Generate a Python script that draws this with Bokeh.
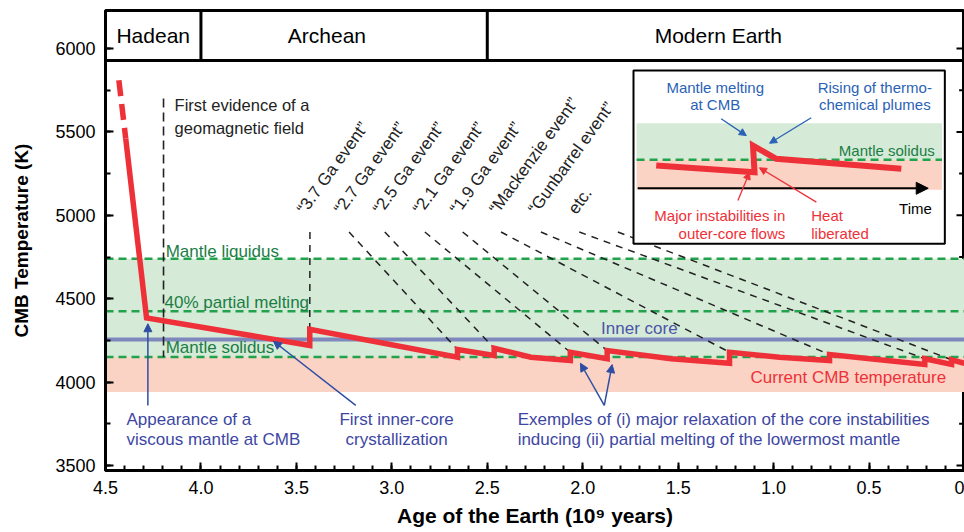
from bokeh.plotting import figure
from bokeh.models import (Range1d, SingleIntervalTicker, Arrow,
                          NormalHead, NumeralTickFormatter)
from bokeh.core.properties import value
from bokeh.embed import file_html
from bokeh.resources import INLINE

FONT = "Liberation Sans"

# ---------------- data ----------------
eon_names = ["Hadean", "Archean", "Modern Earth"]
eon_start = [4.5, 4.0, 2.5]
eon_end = [4.0, 2.5, 0.0]
eon_label_age = [4.25, 3.34, 1.29]
header_bottom_T = 5928

# CMB temperature history (age in Ga, T in K)
early_age = [4.430, 4.394]
early_T = [5810, 5460]
cmb_age = [4.394, 4.285, 3.43, 3.43, 2.656, 2.656, 2.464, 2.464, 2.271, 2.065, 2.065,
           1.872, 1.872, 1.537, 1.231, 1.231, 0.969, 0.707, 0.707, 0.208, 0.208,
           0.068, 0.068, 0.0]
cmb_T = [5460, 4385, 4220, 4317, 4149, 4195, 4159, 4203, 4149, 4129, 4179,
         4140, 4189, 4140, 4113, 4179, 4149, 4129, 4165, 4106, 4140,
         4106, 4134, 4113]

# reference temperature levels (K)
T_liquidus = 4740
T_partial40 = 4425
T_inner_core = 4255
T_solidus = 4150
T_current_low = 3940

# right-hand tick marks (K)
right_major_ticks = [3500, 4000, 4500, 5000, 5500, 6000]
right_minor_ticks = [3750, 4250, 4750, 5250, 5750]

# geomagnetic field evidence
geomag_age = 4.196
geomag_T = [5700, 4150]

# events
event_labels = ["\u201c3.7 Ga event\u201d", "\u201c2.7 Ga event\u201d", "\u201c2.5 Ga event\u201d",
                "\u201c2.1 Ga event\u201d", "\u201c1.9 Ga event\u201d", "\u201cMackenzie event\u201d",
                "\u201cGunbarrel event\u201d", "etc."]
event_label_age = [3.477, 3.283, 3.079, 2.869, 2.675, 2.470, 2.266, 2.056]
event_label_T = 5020
event_line_start_age = [3.429, 3.224, 3.037, 2.827, 2.629, 2.428, 2.219, 2.018, 1.816]
event_line_start_T = 4900
event_jump_age = [3.43, 2.656, 2.464, 2.065, 1.872, 1.231, 0.707, 0.208, 0.068]
event_jump_T = [4317, 4195, 4203, 4179, 4189, 4179, 4165, 4140, 4134]

# inset schematic (drawn in main-plot units)
inset_box = dict(left=1.734, right=0.103, top=5868, bottom=4829)
inset_band_x = [1.718, 0.118]
inset_green_T = [5333, 5552]
inset_pink_T = [5153, 5333]
inset_curve_age = [1.615, 1.100, 1.108, 0.986, 0.331]
inset_curve_T = [5299, 5258, 5418, 5339, 5279]
inset_time_axis_age = [1.712, 0.190]
inset_time_axis_T = 5162

# ---------------- colours ----------------
RED = "#ee3138"
GREEN_BAND = "#d5ead7"
PINK_BAND = "#fbd3c5"
GREEN_LINE = "#22a24c"
GREEN_TEXT = "#1b7d45"
BLUE_TEXT = "#3d47a3"
BLUE2 = "#2a62b5"
INNER = "#7e88bd"

p = figure(width=964, height=532, x_range=Range1d(4.5, 0), y_range=Range1d(3470, 6228),
           output_backend="svg", toolbar_location=None,
           min_border_left=105, min_border_right=0, min_border_top=10, min_border_bottom=62)
p.xgrid.grid_line_color = None
p.ygrid.grid_line_color = None
p.outline_line_color = "black"
p.outline_line_width = 3
p.background_fill_color = "white"
p.border_fill_color = "white"

# axes
p.xaxis.ticker = SingleIntervalTicker(interval=0.5, num_minor_ticks=5)
p.xaxis.formatter = NumeralTickFormatter(format="0.0")
p.xaxis.major_label_overrides = {0: "0"}
p.yaxis.ticker = SingleIntervalTicker(interval=500, num_minor_ticks=2)
for ax in (p.xaxis[0], p.yaxis[0]):
    ax.axis_line_width = 3
    ax.major_tick_in = 8
    ax.major_tick_out = 0
    ax.minor_tick_in = 5
    ax.minor_tick_out = 0
    ax.major_tick_line_width = 2
    ax.minor_tick_line_width = 2
    ax.major_label_text_font = FONT
    ax.major_label_text_font_size = "18px"
    ax.major_label_text_color = "black"
    ax.axis_label_text_font = FONT
    ax.axis_label_text_font_style = "bold"
    ax.axis_label_text_color = "black"
p.xaxis.axis_label = "Age of the Earth (10\u2079 years)"
p.xaxis.axis_label_text_font_size = "21px"
p.xaxis.major_label_standoff = 10
p.xaxis.axis_label_standoff = 7
p.yaxis.axis_label = "CMB Temperature (K)"
p.yaxis.axis_label_text_font_size = "19px"
p.yaxis.major_label_standoff = 10
p.yaxis.axis_label_standoff = 20

# right-side inward ticks
p.segment(x0=[0.0] * len(right_major_ticks), x1=[0.042] * len(right_major_ticks),
          y0=right_major_ticks, y1=right_major_ticks, line_color="black", line_width=2)
p.segment(x0=[0.0] * len(right_minor_ticks), x1=[0.028] * len(right_minor_ticks),
          y0=right_minor_ticks, y1=right_minor_ticks, line_color="black", line_width=2)

# bands
p.quad(left=[4.5], right=[0.0], bottom=[T_current_low], top=[T_solidus],
       fill_color=PINK_BAND, line_color=None)
p.quad(left=[4.5], right=[0.0], bottom=[T_solidus], top=[T_liquidus],
       fill_color=GREEN_BAND, line_color=None)

# green dashed reference lines
for lvl in (T_liquidus, T_partial40, T_solidus):
    p.segment(x0=[4.5], x1=[0.0], y0=[lvl], y1=[lvl], line_color=GREEN_LINE,
              line_width=2.5, line_dash="8 5")
# inner core line
p.segment(x0=[4.5], x1=[0.0], y0=[T_inner_core], y1=[T_inner_core],
          line_color=INNER, line_width=4)

# header
p.segment(x0=[4.5], x1=[0.0], y0=[header_bottom_T], y1=[header_bottom_T],
          line_color="black", line_width=3)
p.segment(x0=eon_end[:-1], x1=eon_end[:-1], y0=[header_bottom_T] * 2, y1=[6228] * 2,
          line_color="black", line_width=3)

def txt(xs, ys, texts, size, color, align="left", baseline="middle", angle=0, style="normal"):
    p.text(x=xs, y=ys, text=texts, text_font=value(FONT), text_font_size=size,
           text_color=color, text_align=align, text_baseline=baseline,
           angle=angle, angle_units="deg", text_font_style=style)

txt(eon_label_age, [6078] * 3, eon_names, "21px", "black", align="center")

# geomagnetic field
p.segment(x0=[geomag_age], x1=[geomag_age], y0=[geomag_T[0]], y1=[geomag_T[1]],
          line_color="#222222", line_width=1.6, line_dash="9 5")
txt([4.138, 4.138], [5664, 5526], ["First evidence of a", "geomagnetic field"], "16.5px", "#222222")

# event lines & labels
p.segment(x0=event_line_start_age, x1=event_jump_age,
          y0=[event_line_start_T] * len(event_jump_age), y1=event_jump_T,
          line_color="#222222", line_width=1.5, line_dash="7 6")
txt(event_label_age, [event_label_T] * len(event_labels), event_labels, "17px", "#222222",
    baseline="alphabetic", angle=54)

# CMB curve
p.line(early_age, early_T, line_color=RED, line_width=5.5, line_dash="16 8")
p.line(cmb_age, cmb_T, line_color=RED, line_width=5.5, line_join="miter")

# level labels
txt([4.185, 4.191, 4.185], [4785, 4479, 4206],
    ["Mantle liquidus", "40% partial melting", "Mantle solidus"], "17px", GREEN_TEXT)
txt([1.904], [4320], ["Inner core"], "17px", "#4a55a8")
txt([1.121], [4029], ["Current CMB temperature"], "17px", RED)

# bottom blue annotations
txt([4.390, 4.390], [3774, 3654], ["Appearance of a", "viscous mantle at CMB"], "17px", BLUE_TEXT)
txt([2.975, 2.975], [3774, 3654], ["First inner-core", "crystallization"], "17px", BLUE_TEXT,
    align="center")
txt([2.341, 2.341], [3774, 3654],
    ["Exemples of (i) major relaxation of the core instabilities",
     "inducing (ii) partial melting of the lowermost mantle"], "17px", BLUE_TEXT)

def arrow(x0, y0, x1, y1, color, size=8, width=1.5):
    p.add_layout(Arrow(end=NormalHead(size=size, fill_color=color, line_color=color),
                       x_start=x0, y_start=y0, x_end=x1, y_end=y1,
                       line_color=color, line_width=width))

arrow(4.278, 3860, 4.278, 4350, "#2f4ea3")
arrow(3.189, 3860, 3.620, 4245, "#2f4ea3")
arrow(1.887, 3860, 2.012, 4113, "#2f4ea3")
arrow(1.887, 3860, 1.846, 4105, "#2f4ea3")

# ---------------- inset ----------------
p.quad(left=[inset_box["left"]], right=[inset_box["right"]], top=[inset_box["top"]],
       bottom=[inset_box["bottom"]], fill_color="white", line_color="black", line_width=2)
p.quad(left=[inset_band_x[0]], right=[inset_band_x[1]], bottom=[inset_green_T[0]],
       top=[inset_green_T[1]], fill_color=GREEN_BAND, line_color=None)
p.quad(left=[inset_band_x[0]], right=[inset_band_x[1]], bottom=[inset_pink_T[0]],
       top=[inset_pink_T[1]], fill_color=PINK_BAND, line_color=None)
p.segment(x0=[inset_band_x[0]], x1=[inset_band_x[1]], y0=[inset_green_T[0]], y1=[inset_green_T[0]],
          line_color=GREEN_LINE, line_width=2.5, line_dash="8 5")
p.line(inset_curve_age, inset_curve_T, line_color=RED, line_width=6, line_join="miter")
arrow(inset_time_axis_age[0], inset_time_axis_T, inset_time_axis_age[1], inset_time_axis_T,
      "black", size=12, width=2)
txt([0.343], [5039], ["Time"], "15px", "black")
txt([1.306, 1.306], [5768, 5662], ["Mantle melting", "at CMB"], "15px", BLUE2, align="center")
txt([0.470, 0.470], [5768, 5662], ["Rising of thermo-", "chemical plumes"], "15px", BLUE2,
    align="center")
txt([0.156], [5388], ["Mantle solidus"], "15px", GREEN_TEXT, align="right")
txt([0.939, 0.939], [4997, 4889], ["Major instabilities in", "outer-core flows"], "15px", RED,
    align="right")
txt([0.803, 0.803], [4997, 4889], ["Heat", "liberated"], "15px", RED)
arrow(1.275, 5579, 1.143, 5478, BLUE2, size=7, width=1.3)
arrow(0.803, 5585, 1.021, 5432, BLUE2, size=7, width=1.3)
arrow(1.187, 5089, 1.126, 5258, RED, size=7, width=1.3)
arrow(0.776, 5079, 1.074, 5285, RED, size=7, width=1.3)

open("out.html", "w").write(file_html(p, INLINE))
